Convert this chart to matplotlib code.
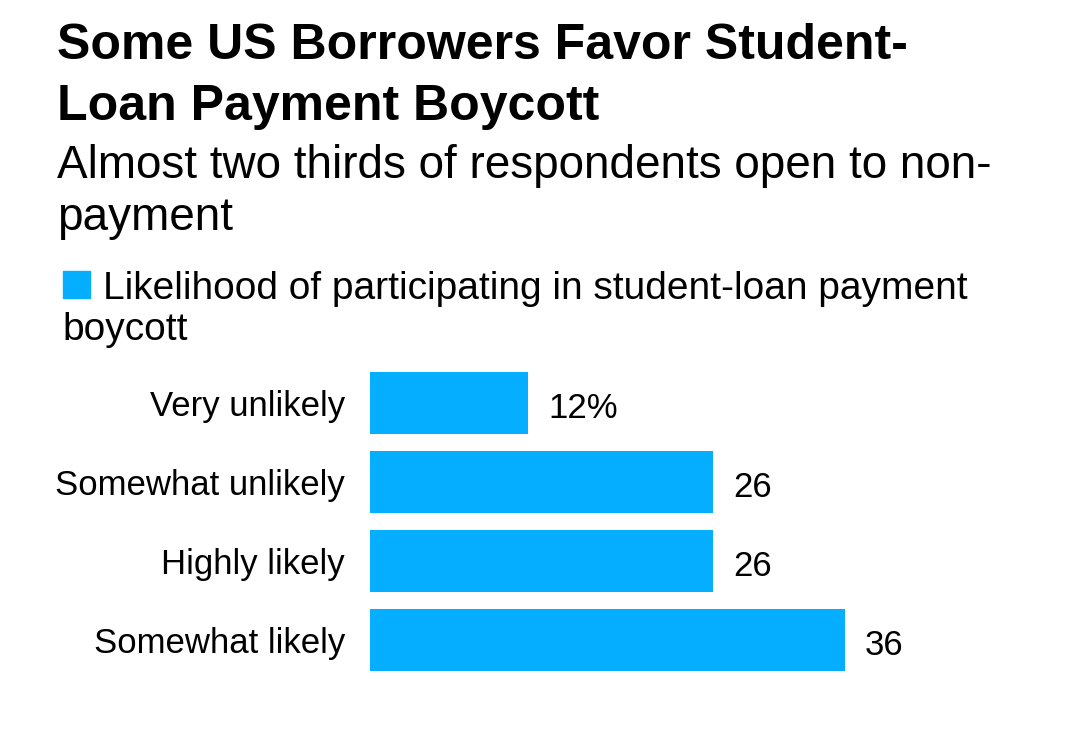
import matplotlib
matplotlib.use("Agg")
import matplotlib.pyplot as plt
from matplotlib.patches import Rectangle

plt.rcParams["font.family"] = ["Liberation Sans", "DejaVu Sans"]

categories = ["Very unlikely", "Somewhat unlikely", "Highly likely", "Somewhat likely"]
values = [12, 26, 26, 36]
value_labels = ["12%", "26", "26", "36"]

title_lines = ["Some US Borrowers Favor Student-", "Loan Payment Boycott"]
subtitle_lines = ["Almost two thirds of respondents open to non-", "payment"]
legend_lines = ["Likelihood of participating in student-loan payment", "boycott"]

BAR_COLOR = "#05AEFF"
W, H = 1070, 748


def fx(px):
    return px / W


def fy(py):
    return 1 - py / H


fig = plt.figure(figsize=(W / 100, H / 100), dpi=100)
fig.patch.set_facecolor("white")

# axes: x=0 at 370px, 13.2 px per unit; rows 79px apart
ax = fig.add_axes([fx(370), fy(679.5), fx(660), 316 / H])
y = list(range(len(categories)))
ax.barh(y, values, height=0.785, color=BAR_COLOR)
ax.set_xlim(0, 50)
ax.set_ylim(3.5, -0.5)
ax.axis("off")

for yi, cat, v, lab in zip(y, categories, values, value_labels):
    ax.text(-1.9, yi + 0.05, cat, ha="right", va="center", fontsize=25)
    ax.text(v + 1.5, yi + 0.07, lab, ha="left", va="center", fontsize=25)

# title, subtitle, legend placed line by line (baselines in px)
for line, base in zip(title_lines, [59, 120]):
    fig.text(fx(57), fy(base), line, fontsize=36, fontweight="bold",
             ha="left", va="baseline")
for line, base in zip(subtitle_lines, [178, 230]):
    fig.text(fx(57), fy(base), line, fontsize=33,
             ha="left", va="baseline")

fig.patches.append(Rectangle((fx(63), fy(298)), fx(27), 27 / H,
                             transform=fig.transFigure, color=BAR_COLOR))
fig.text(fx(103), fy(299), legend_lines[0], fontsize=28,
         ha="left", va="baseline")
fig.text(fx(62), fy(340), legend_lines[1], fontsize=28,
         ha="left", va="baseline")

fig.savefig("out.png", dpi=100, facecolor="white")
